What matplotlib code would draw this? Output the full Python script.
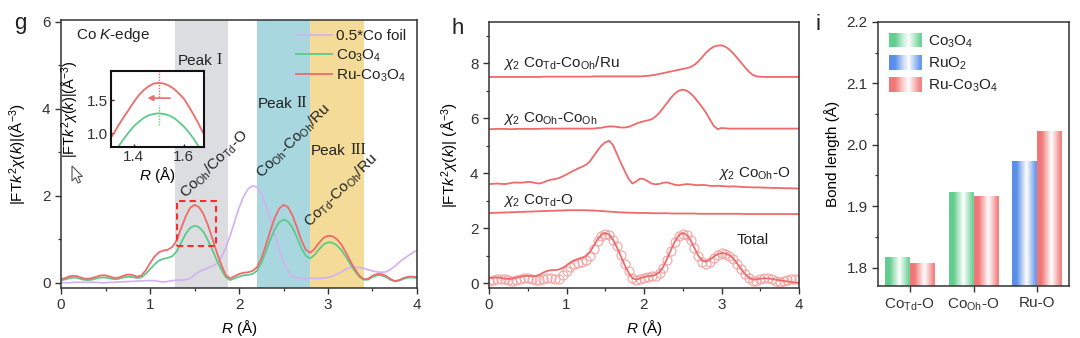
import numpy as np
import matplotlib.pyplot as plt
import matplotlib.transforms as mtransforms
from matplotlib.patches import Rectangle, Polygon
from matplotlib.legend_handler import HandlerBase
from matplotlib.colors import to_rgb
from matplotlib.ticker import MultipleLocator

plt.rcParams['font.family'] = ['Liberation Sans', 'DejaVu Sans']
plt.rcParams['mathtext.fontset'] = 'custom'
plt.rcParams['mathtext.rm'] = 'Liberation Sans'
plt.rcParams['mathtext.it'] = 'Liberation Sans:italic'
plt.rcParams['font.size'] = 11
plt.rcParams['text.color'] = '#222222'
plt.rcParams['axes.edgecolor'] = '#333333'
plt.rcParams['xtick.color'] = '#333333'
plt.rcParams['ytick.color'] = '#333333'

# ---- Co K-edge FT-EXAFS, R from 0 to 4 Å in 0.05 steps ----
r = np.round(np.arange(0, 4.001, 0.05), 2)

ru_co3o4 = [0.08, 0.11, 0.15, 0.16, 0.14, 0.10, 0.09, 0.11, 0.14, 0.17,
            0.17, 0.14, 0.11, 0.12, 0.16, 0.19, 0.18, 0.14, 0.16, 0.28,
            0.45, 0.60, 0.70, 0.74, 0.76, 0.82, 0.98, 1.25, 1.52, 1.72,
            1.79, 1.74, 1.58, 1.33, 1.02, 0.70, 0.42, 0.18, 0.10, 0.15,
            0.20, 0.23, 0.24, 0.27, 0.35, 0.55, 0.85, 1.18, 1.48, 1.70,
            1.79, 1.74, 1.55, 1.28, 0.98, 0.76, 0.69, 0.78, 0.92, 1.03,
            1.08, 1.07, 1.00, 0.88, 0.70, 0.50, 0.32, 0.17, 0.08, 0.09,
            0.16, 0.20, 0.20, 0.16, 0.09, 0.04, 0.06, 0.11, 0.14, 0.14,
            0.13]

co3o4 = [0.05, 0.08, 0.11, 0.12, 0.10, 0.07, 0.06, 0.07, 0.10, 0.12,
         0.12, 0.10, 0.08, 0.09, 0.12, 0.14, 0.13, 0.11, 0.12, 0.20,
         0.31, 0.42, 0.51, 0.55, 0.57, 0.61, 0.72, 0.92, 1.12, 1.26,
         1.31, 1.28, 1.17, 0.98, 0.76, 0.52, 0.31, 0.13, 0.06, 0.10,
         0.14, 0.17, 0.18, 0.20, 0.27, 0.45, 0.70, 0.98, 1.22, 1.39,
         1.45, 1.41, 1.27, 1.05, 0.80, 0.62, 0.56, 0.64, 0.77, 0.88,
         0.93, 0.92, 0.86, 0.75, 0.60, 0.43, 0.27, 0.14, 0.07, 0.07,
         0.13, 0.17, 0.17, 0.13, 0.07, 0.03, 0.05, 0.09, 0.12, 0.12,
         0.11]

co_foil_half = [0.00, 0.00, 0.00, 0.01, 0.01, 0.01, 0.01, 0.01, 0.01, 0.00,
                0.00, 0.01, 0.01, 0.02, 0.02, 0.03, 0.03, 0.04, 0.04, 0.05,
                0.05, 0.05, 0.03, 0.02, 0.03, 0.05, 0.06, 0.06, 0.07, 0.10,
                0.18, 0.25, 0.30, 0.34, 0.38, 0.44, 0.58, 0.80, 1.08, 1.40,
                1.72, 1.98, 2.15, 2.23, 2.20, 2.05, 1.80, 1.48, 1.12, 0.78,
                0.48, 0.27, 0.15, 0.11, 0.10, 0.10, 0.10, 0.10, 0.10, 0.11,
                0.12, 0.15, 0.20, 0.25, 0.31, 0.35, 0.36, 0.35, 0.33, 0.30,
                0.27, 0.25, 0.24, 0.25, 0.30, 0.38, 0.47, 0.55, 0.62, 0.69,
                0.75]

# zoomed first shell for the inset
r_zoom = np.round(np.arange(1.30, 1.701, 0.02), 2)
ru_co3o4_zoom = [0.88, 0.99, 1.12, 1.24, 1.35, 1.47, 1.57, 1.65, 1.71, 1.75,
                 1.76, 1.75, 1.72, 1.67, 1.60, 1.52, 1.40, 1.27, 1.13, 0.98, 0.84]
co3o4_zoom = [0.62, 0.72, 0.80, 0.91, 1.01, 1.10, 1.17, 1.23, 1.27, 1.29,
              1.30, 1.29, 1.27, 1.23, 1.17, 1.10, 1.01, 0.91, 0.79, 0.66, 0.52]

# ---- fitting of Ru-Co3O4: total fit and offset single paths ----
fit_total = [0.18, 0.19, 0.20, 0.19, 0.16, 0.15, 0.16, 0.19, 0.22, 0.25,
             0.26, 0.25, 0.25, 0.30, 0.38, 0.44, 0.47, 0.47, 0.49, 0.55,
             0.64, 0.74, 0.82, 0.88, 0.92, 0.98, 1.12, 1.35, 1.58, 1.76,
             1.82, 1.76, 1.58, 1.30, 0.98, 0.66, 0.38, 0.18, 0.12, 0.17,
             0.22, 0.25, 0.26, 0.30, 0.40, 0.60, 0.90, 1.22, 1.52, 1.74,
             1.82, 1.76, 1.56, 1.28, 1.00, 0.82, 0.78, 0.85, 0.96, 1.05,
             1.09, 1.08, 1.02, 0.90, 0.72, 0.52, 0.34, 0.20, 0.13, 0.13,
             0.16, 0.17, 0.17, 0.15, 0.12, 0.10, 0.08, 0.06, 0.04, 0.02,
             0.01]

path_td_o = [2.55, 2.55, 2.56, 2.56, 2.57, 2.57, 2.58, 2.58, 2.59, 2.59,
             2.60, 2.60, 2.61, 2.61, 2.62, 2.62, 2.63, 2.63, 2.64, 2.64,
             2.65, 2.65, 2.65, 2.65, 2.65, 2.65, 2.64, 2.64, 2.63, 2.62,
             2.61, 2.60, 2.59, 2.58, 2.57, 2.57, 2.56, 2.56, 2.55, 2.55,
             2.55, 2.55, 2.54, 2.54, 2.54, 2.54, 2.54, 2.53, 2.53, 2.53,
             2.53, 2.53, 2.53, 2.53, 2.52, 2.52, 2.52, 2.52, 2.52, 2.52,
             2.52, 2.52, 2.52, 2.52, 2.52, 2.52, 2.51, 2.51, 2.51, 2.51,
             2.51, 2.51, 2.51, 2.51, 2.51, 2.51, 2.51, 2.51, 2.51, 2.51,
             2.51]

path_oh_o = [3.60, 3.61, 3.62, 3.61, 3.60, 3.62, 3.65, 3.66, 3.65, 3.66,
             3.68, 3.67, 3.64, 3.62, 3.66, 3.72, 3.76, 3.78, 3.82, 3.88,
             3.95, 4.03, 4.10, 4.17, 4.23, 4.30, 4.42, 4.62, 4.82, 5.00,
             5.12, 5.18, 5.02, 4.70, 4.38, 4.08, 3.80, 3.62, 3.70, 3.80,
             3.78, 3.70, 3.62, 3.59, 3.61, 3.65, 3.66, 3.62, 3.57, 3.56,
             3.58, 3.60, 3.59, 3.57, 3.56, 3.57, 3.56, 3.54, 3.53, 3.54,
             3.53, 3.52, 3.51, 3.52, 3.51, 3.50, 3.49, 3.49, 3.48, 3.48,
             3.48, 3.47, 3.47, 3.46, 3.46, 3.46, 3.45, 3.45, 3.45, 3.44,
             3.44]

path_oh_oh = [5.60, 5.60, 5.61, 5.61, 5.61, 5.60, 5.60, 5.61, 5.61, 5.61,
              5.61, 5.61, 5.61, 5.61, 5.62, 5.62, 5.62, 5.62, 5.62, 5.62,
              5.62, 5.62, 5.62, 5.62, 5.62, 5.62, 5.62, 5.62, 5.64, 5.65,
              5.68, 5.70, 5.70, 5.68, 5.66, 5.66, 5.68, 5.74, 5.80, 5.85,
              5.89, 5.92, 5.96, 6.06, 6.20, 6.38, 6.56, 6.75, 6.90, 7.00,
              7.04, 7.00, 6.90, 6.76, 6.58, 6.40, 6.20, 5.95, 5.72, 5.60,
              5.64, 5.63, 5.62, 5.62, 5.62, 5.62, 5.62, 5.62, 5.62, 5.62,
              5.62, 5.62, 5.62, 5.62, 5.62, 5.62, 5.62, 5.62, 5.62, 5.62,
              5.62]

path_td_oh_ru = [7.50, 7.50, 7.50, 7.50, 7.50, 7.50, 7.50, 7.50, 7.50, 7.50,
                 7.50, 7.50, 7.50, 7.50, 7.51, 7.51, 7.51, 7.51, 7.51, 7.51,
                 7.51, 7.51, 7.51, 7.51, 7.51, 7.51, 7.51, 7.52, 7.52, 7.52,
                 7.52, 7.52, 7.52, 7.52, 7.52, 7.52, 7.52, 7.52, 7.52, 7.52,
                 7.53, 7.54, 7.56, 7.58, 7.61, 7.64, 7.67, 7.70, 7.73, 7.76,
                 7.79, 7.82, 7.86, 7.94, 8.06, 8.22, 8.38, 8.51, 8.60, 8.64,
                 8.65, 8.60, 8.50, 8.36, 8.20, 8.03, 7.86, 7.70, 7.58, 7.52,
                 7.51, 7.50, 7.50, 7.50, 7.50, 7.50, 7.50, 7.50, 7.50, 7.50,
                 7.50]

# ---- bond lengths ----
bonds = [r'Co$_{\rm Td}$-O', r'Co$_{\rm Oh}$-O', 'Ru-O']
bond_co3o4 = [1.816, 1.923, np.nan]
bond_ruo2 = [np.nan, np.nan, 1.972]
bond_ru_co3o4 = [1.806, 1.916, 2.022]

RED = '#ef6a6a'
GREEN = '#5ccb8a'
PURPLE = '#d3b0f0'
PINK = '#f4a3a3'


def style_axis(ax):
    for s in ax.spines.values():
        s.set_linewidth(1.1)
    ax.tick_params(which='major', direction='out', length=4, width=1.0)
    ax.tick_params(which='minor', direction='out', length=2.5, width=0.9)


fig = plt.figure(figsize=(10.8, 3.38), dpi=100)

# ================= g =================
ax_g = fig.add_axes([0.0565, 0.148, 0.3296, 0.793])
ax_g.axvspan(1.28, 1.88, color='#dcdde0', lw=0, zorder=0)
ax_g.axvspan(2.20, 2.80, color='#a9d7e0', lw=0, zorder=0)
ax_g.axvspan(2.80, 3.40, color='#f4dc98', lw=0, zorder=0)
ax_g.plot(r, co_foil_half, color=PURPLE, lw=1.2, label='0.5*Co foil')
ax_g.plot(r, co3o4, color=GREEN, lw=1.3, label=r'Co$_3$O$_4$')
ax_g.plot(r, ru_co3o4, color=RED, lw=1.3, label=r'Ru-Co$_3$O$_4$')
ax_g.add_patch(Rectangle((1.30, 0.85), 0.44, 1.03, fill=False, ec='#ff2b2b',
                         lw=1.5, ls=(0, (3, 2)), zorder=4))
ax_g.set_xlim(0, 4)
ax_g.set_ylim(-0.12, 6.04)
ax_g.xaxis.set_major_locator(MultipleLocator(1))
ax_g.xaxis.set_minor_locator(MultipleLocator(0.5))
ax_g.yaxis.set_major_locator(MultipleLocator(2))
ax_g.yaxis.set_minor_locator(MultipleLocator(1))
style_axis(ax_g)
ax_g.set_xlabel(r'$R$ (Å)')
ax_g.set_ylabel(r'|FT$k^2\chi(k)$|(Å$^{-3}$)')
ax_g.yaxis.set_label_coords(-0.09, 0.5)
ax_g.legend(loc='upper right', bbox_to_anchor=(1.0, 1.005), frameon=False,
            handlelength=2.3, handletextpad=0.3, labelspacing=0.25,
            borderaxespad=0.3)
ax_g.text(0.17, 5.7, r'Co $K$-edge', va='center')

# peak labels: sans "Peak" followed by a serif roman numeral
for (xr, yv, num) in [(1.31, 4.93, 'I'), (2.21, 3.94, 'II'), (2.81, 2.86, 'III')]:
    word = ax_g.text(xr, yv, 'Peak', va='bottom')
    ax_g.annotate(num, xy=(1, 0), xycoords=word, xytext=(3, 0),
                  textcoords='offset points', va='bottom', ha='left',
                  family='Liberation Serif', fontsize=11.5)

for (xr, yv, txt) in [(1.72, 2.73, r'Co$_{\rm Oh}$/Co$_{\rm Td}$-O'),
                      (2.61, 3.26, r'Co$_{\rm Oh}$-Co$_{\rm Oh}$/Ru'),
                      (3.15, 2.11, r'Co$_{\rm Td}$-Co$_{\rm Oh}$/Ru')]:
    ax_g.text(xr, yv, txt, rotation=45, ha='center', va='center',
              rotation_mode='anchor')

# inset: zoom on the first shell
ax_in = fig.add_axes([0.1028, 0.565, 0.0861, 0.225])
ax_in.plot(r_zoom, ru_co3o4_zoom, color=RED, lw=1.3)
ax_in.plot(r_zoom, co3o4_zoom, color=GREEN, lw=1.3)
ax_in.plot([1.5, 1.5], [1.55, 1.94], color=RED, lw=1.0, ls=(0, (1, 1)))
ax_in.plot([1.5, 1.5], [1.12, 1.42], color=GREEN, lw=1.0, ls=(0, (1, 1)))
ax_in.annotate('', xy=(1.455, 1.53), xytext=(1.545, 1.53),
               arrowprops=dict(arrowstyle='-|>', color=RED, lw=1.2,
                               mutation_scale=8, shrinkA=0, shrinkB=0))
ax_in.set_xlim(1.31, 1.68)
ax_in.set_ylim(0.79, 1.94)
ax_in.set_xticks([1.4, 1.6])
ax_in.set_yticks([1.0, 1.5])
for s in ax_in.spines.values():
    s.set_linewidth(1.5)
    s.set_color('#111111')
ax_in.tick_params(direction='in', length=2.5, width=1.0, labelsize=11, pad=2)
ax_in.set_xlabel(r'$R$ (Å)', labelpad=1)
ax_in.set_ylabel(r'|FT$k^2\chi(k)$|(Å$^{-3}$)', fontsize=10.5)
ax_in.yaxis.set_label_coords(-0.32, 0.5)

# mouse pointer glyph beside the inset
cursor = np.array([(0, 0), (0, 15), (3.5, 11.5), (6, 17), (8.5, 16), (6, 10.5),
                   (10.5, 10.5)], dtype=float)
to_fig = mtransforms.Affine2D().scale(1, -1).translate(72, 338 - 166) \
    .scale(1 / 1080, 1 / 338) + fig.transFigure
fig.add_artist(Polygon(cursor, closed=True, fc='white', ec='#555555', lw=0.8,
                       transform=to_fig))

# ================= h =================
ax_h = fig.add_axes([489 / 1080, 0.148, 310 / 1080, 0.787])
ax_h.plot(r, ru_co3o4, 'o', mfc='none', mec=PINK, ms=6.5, mew=0.8)
for curve in (fit_total, path_td_o, path_oh_o, path_oh_oh, path_td_oh_ru):
    ax_h.plot(r, curve, color=RED, lw=1.3)
ax_h.set_xlim(0, 4)
ax_h.set_ylim(-0.18, 9.5)
ax_h.xaxis.set_major_locator(MultipleLocator(1))
ax_h.xaxis.set_minor_locator(MultipleLocator(0.5))
ax_h.yaxis.set_major_locator(MultipleLocator(2))
ax_h.yaxis.set_minor_locator(MultipleLocator(1))
style_axis(ax_h)
ax_h.set_xlabel(r'$R$ (Å)')
ax_h.set_ylabel(r'|FT$k^2\chi(k)$| (Å$^{-3}$)')
ax_h.yaxis.set_label_coords(-0.09, 0.5)
ax_h.text(0.18, 8.0, r'$\chi_2$ Co$_{\rm Td}$-Co$_{\rm Oh}$/Ru', va='center')
ax_h.text(0.18, 6.0, r'$\chi_2$ Co$_{\rm Oh}$-Co$_{\rm Oh}$', va='center')
ax_h.text(2.95, 4.0, r'$\chi_2$ Co$_{\rm Oh}$-O', va='center')
ax_h.text(0.18, 3.0, r'$\chi_2$ Co$_{\rm Td}$-O', va='center')
ax_h.text(3.2, 1.56, 'Total', va='center')


# ================= i =================
def fade(color, n=64):
    t = np.linspace(0, 1, n)
    a = np.interp(t, [0, 0.18, 0.58, 0.95, 1], [1, 1, 0, 0.9, 0.9])
    rgb = np.array(to_rgb(color))
    return 1 - a[:, None] * (1 - rgb[None, :])


class FadeHandler(HandlerBase):
    def create_artists(self, legend, orig_handle, xdescent, ydescent,
                       width, height, fontsize, trans):
        n = 32
        cols = fade(orig_handle.get_facecolor(), n)
        w = width / n
        return [Rectangle((-xdescent + k * w, -ydescent), w * 1.08, height,
                          fc=cols[k], ec='none', transform=trans)
                for k in range(n)]


ax_i = fig.add_axes([878 / 1080, 0.154, 191 / 1080, 0.781])
bar_w = 0.39
xpos = np.arange(len(bonds))
bar_sets = [(bond_co3o4, -bar_w / 2, '#62cd8e', r'Co$_3$O$_4$'),
            (bond_ruo2, -bar_w / 2, '#5a8fe8', r'RuO$_2$'),
            (bond_ru_co3o4, bar_w / 2, '#f07777', r'Ru-Co$_3$O$_4$')]
proxies = []
for vals, off, col, lab in bar_sets:
    bars = ax_i.bar(xpos + off, np.nan_to_num(vals), bar_w, color='none')
    for b, v in zip(bars, vals):
        if np.isnan(v):
            continue
        ax_i.imshow(fade(col)[None, :, :], aspect='auto', zorder=2,
                    extent=[b.get_x(), b.get_x() + b.get_width(), 0, v])
    proxies.append(Rectangle((0, 0), 1, 1, fc=col, label=lab))
ax_i.set_xlim(-0.5, 2.5)
ax_i.set_ylim(1.77, 2.2)
ax_i.set_xticks(xpos)
ax_i.set_xticklabels(bonds)
ax_i.yaxis.set_major_locator(MultipleLocator(0.1))
ax_i.yaxis.set_minor_locator(MultipleLocator(0.05))
style_axis(ax_i)
ax_i.set_ylabel('Bond length (Å)')
ax_i.yaxis.set_label_coords(-0.2, 0.5)
ax_i.legend(handles=proxies, handler_map={Rectangle: FadeHandler()},
            loc='upper left', frameon=False, handlelength=2.2,
            handleheight=1.1, labelspacing=0.35, handletextpad=0.4,
            borderaxespad=0.3)

# panel letters
fig.text(20 / 1080, 1 - 24 / 338, 'g', fontsize=16, ha='center', va='center')
fig.text(458 / 1080, 1 - 28 / 338, 'h', fontsize=16, ha='center', va='center')
fig.text(818 / 1080, 1 - 24 / 338, 'i', fontsize=16, ha='center', va='center')

fig.savefig('out.png', dpi=100)
